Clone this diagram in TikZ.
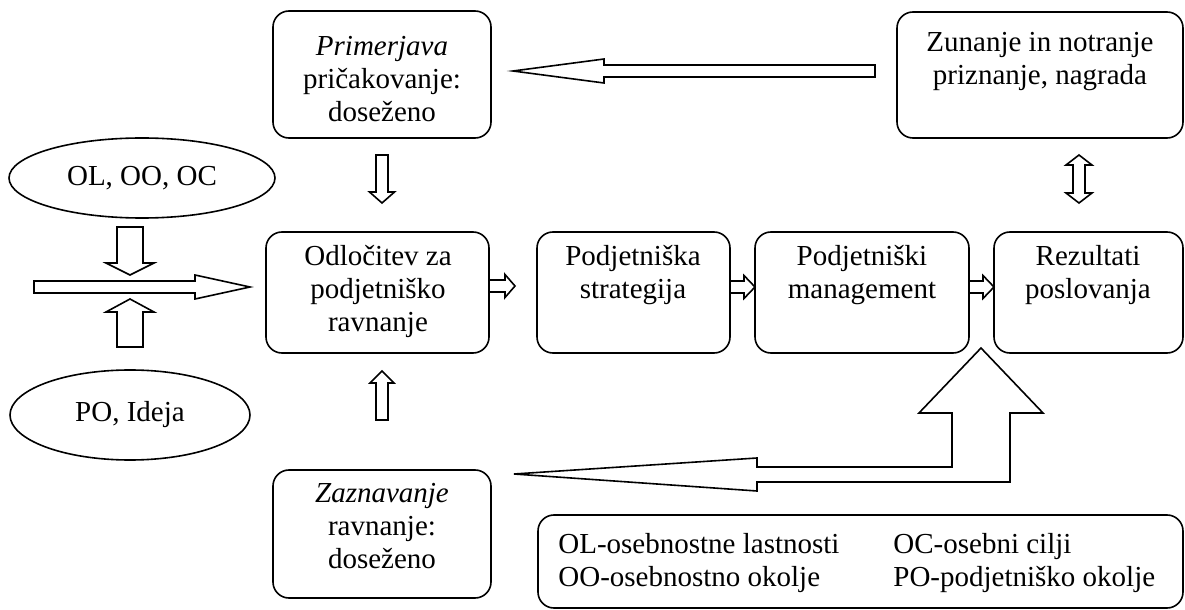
\documentclass[tikz,border=0pt]{standalone}
\usepackage{fontspec}
\setmainfont{Liberation Serif}
\usetikzlibrary{fit}
% horizontal block arrow: tail x, head-base x, tip x, y, shaft half, head half
\newcommand\myharrow[6]{\draw[blk] (#1,#4-#5) -- (#2,#4-#5) -- (#2,#4-#6) -- (#3,#4) -- (#2,#4+#6) -- (#2,#4+#5) -- (#1,#4+#5) -- cycle;}
% vertical block arrow: tail y, head-base y, tip y, x, shaft half, head half
\newcommand\myvarrow[6]{\draw[blk] (#4-#5,#1) -- (#4-#5,#2) -- (#4-#6,#2) -- (#4,#3) -- (#4+#6,#2) -- (#4+#5,#2) -- (#4+#5,#1) -- cycle;}
\begin{document}
\begin{tikzpicture}[x=0.5pt,y=-0.5pt,
  box/.style={draw,line width=0.8pt,rounded corners=8pt,inner sep=0pt},
  blk/.style={draw,line width=0.8pt,fill=white,line join=miter},
  txt/.style={font=\fontsize{14.5}{16.5}\selectfont,align=center,inner sep=0pt}]
\useasboundingbox (0,0) rectangle (1185,610);
% boxes
\node[box,fit={(273,11) (491,138)}] (prim) {};
\node[box,fit={(897,12) (1183,138)}] (zun) {};
\node[box,fit={(266,232) (489,353)}] (odl) {};
\node[box,fit={(537,232) (730,353)}] (str) {};
\node[box,fit={(755,232) (969,353)}] (man) {};
\node[box,fit={(994,232) (1183,353)}] (rez) {};
\node[box,fit={(273,470) (491,598)}] (zaz) {};
\node[box,fit={(538,515) (1183,608)}] (leg) {};
% ellipses
\draw[line width=0.8pt] (142,178) ellipse [x radius=133, y radius=40];
\draw[line width=0.8pt] (130,415) ellipse [x radius=120, y radius=45];
\node[txt] (e1) at (142,178) {OL, OO, OC};
\node[txt] (e2) at (130,415) {PO, Ideja};
% texts
\node[txt] (tprim) at (382,79) {\textit{Primerjava}\\pričakovanje:\\doseženo};
\node[txt] (tzun) at (1040,62) {Zunanje in notranje\\priznanje, nagrada};
\node[txt] (todl) at (378,291) {Odločitev za\\podjetniško\\ravnanje};
\node[txt] (tstr) at (633,275) {Podjetniška\\strategija};
\node[txt] (tman) at (862,275) {Podjetniški\\management};
\node[txt] (trez) at (1088,275) {Rezultati\\poslovanja};
\node[txt] (tzaz) at (382,526) {\textit{Zaznavanje}\\ravnanje:\\doseženo};
\node[txt,anchor=west,align=left] (l1) at (558,563) {OL-osebnostne lastnosti\\OO-osebnostno okolje};
\node[txt,anchor=west,align=left] (l2) at (893,563) {OC-osebni cilji\\PO-podjetniško okolje};
% block arrows
\myharrow{34}{195}{250}{287}{6}{12}
\myvarrow{227}{263}{275}{130}{13}{24}
\myvarrow{347}{312}{299}{130}{13}{24}
\myharrow{875}{604}{513}{71}{6}{12}
\myvarrow{155}{192}{203}{382}{6}{12.5}
\myvarrow{420}{383}{371}{382}{6}{12}
\draw[blk] (1073,165) -- (1066,165) -- (1079,155) -- (1092,165) -- (1085,165) -- (1085,193) -- (1092,193) -- (1079,203) -- (1066,193) -- (1073,193) -- cycle;
\myharrow{489}{505}{515}{286}{6}{11.5}
\myharrow{730}{744}{755}{287}{6}{11.5}
\myharrow{969}{983}{994}{287}{6}{11.5}
% big bent arrow
\draw[blk] (981,348) -- (1043,413) -- (1010,413) -- (1010,482) -- (757,482) -- (757,491) -- (514,474) -- (757,458) -- (757,467) -- (952,467) -- (952,413) -- (919,413) -- cycle;
\end{tikzpicture}
\end{document}
